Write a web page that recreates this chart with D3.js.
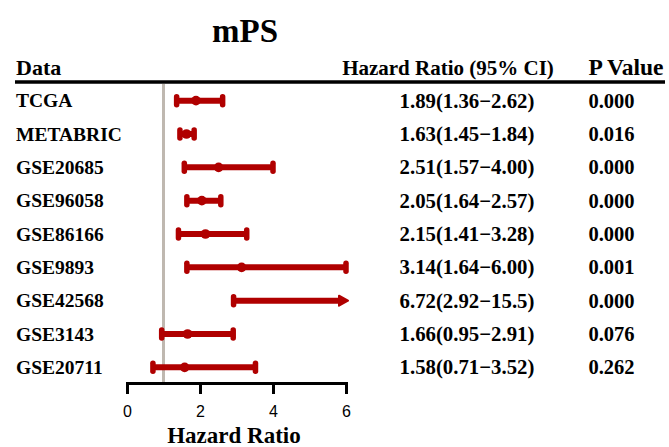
<!DOCTYPE html>
<html>
<head>
<meta charset="utf-8">
<script src="https://cdn.jsdelivr.net/npm/d3@7"></script>
<style>
  body { margin: 0; background: #fff; }
  svg { display: block; }
</style>
</head>
<body>
<svg id="chart" width="669" height="447"></svg>
<script>
// Study cohorts, hazard ratios and 95% confidence limits
const cohorts = ["TCGA", "METABRIC", "GSE20685", "GSE96058", "GSE86166", "GSE9893", "GSE42568", "GSE3143", "GSE20711"];
const hr      = [1.89, 1.63, 2.51, 2.05, 2.15, 3.14, 6.72, 1.66, 1.58];
const lower   = [1.36, 1.45, 1.57, 1.64, 1.41, 1.64, 2.92, 0.95, 0.71];
const upper   = [2.62, 1.84, 4.00, 2.57, 3.28, 6.00, 15.5, 2.91, 3.52];
const pValues = ["0.000", "0.016", "0.000", "0.000", "0.000", "0.001", "0.000", "0.076", "0.262"];
const xTicks  = [0, 2, 4, 6];

const svg = d3.select("#chart");
const serif = "'Liberation Serif', 'Times New Roman', serif";
const red = "#b00000";

const x = d3.scaleLinear().domain([0, 6]).range([127, 346]);
const y = d3.scaleBand().domain(cohorts).range([84, 384]).paddingInner(0).paddingOuter(0);
const cy = d => y(d) + y.bandwidth() / 2;

// Title and column headers
svg.append("text").attr("x", 245).attr("y", 42).attr("text-anchor", "middle")
  .style("font-family", serif).style("font-weight", "bold").style("font-size", "33px").text("mPS");
svg.append("text").attr("x", 16).attr("y", 75)
  .style("font-family", serif).style("font-weight", "bold").style("font-size", "22px").text("Data");
svg.append("text").attr("x", 448).attr("y", 75).attr("text-anchor", "middle")
  .style("font-family", serif).style("font-weight", "bold").style("font-size", "21px").text("Hazard Ratio (95% CI)");
svg.append("text").attr("x", 626).attr("y", 75).attr("text-anchor", "middle")
  .style("font-family", serif).style("font-weight", "bold").style("font-size", "23.5px").text("P Value");

svg.append("line").attr("x1", 15).attr("x2", 665).attr("y1", 82).attr("y2", 82)
  .attr("stroke", "#000").attr("stroke-width", 3.5);

// Reference line at HR = 1
svg.append("line").attr("x1", x(1)).attr("x2", x(1)).attr("y1", 84).attr("y2", 383)
  .attr("stroke", "#bfb8b0").attr("stroke-width", 3);

// Axis
const axis = svg.append("g").attr("transform", "translate(0,383)")
  .call(d3.axisBottom(x).tickValues(xTicks).tickFormat(d3.format("d"))
    .tickSize(11).tickPadding(12).tickSizeOuter(11));
axis.select(".domain").attr("stroke", "#000").attr("stroke-width", 3);
axis.selectAll(".tick line").attr("stroke", "#000").attr("stroke-width", 3);
axis.selectAll(".tick text").style("font-family", "'Liberation Sans', Arial, sans-serif")
  .style("font-size", "16px").attr("fill", "#000");
svg.append("text").attr("x", 234).attr("y", 443).attr("text-anchor", "middle")
  .style("font-family", serif).style("font-weight", "bold").style("font-size", "23px").text("Hazard Ratio");

const rows = cohorts.map((c, i) => ({ c, hr: hr[i], lo: lower[i], hi: upper[i], p: pValues[i] }));
const xMax = x.domain()[1];

const g = svg.append("g");
const row = g.selectAll("g.row").data(rows).join("g").attr("class", "row");

row.append("text").attr("x", 16).attr("y", d => cy(d.c) + 6.5)
  .style("font-family", serif).style("font-weight", "bold").style("font-size", "19.5px").text(d => d.c);
row.append("text").attr("x", 467).attr("y", d => cy(d.c) + 7)
  .attr("text-anchor", "middle")
  .style("font-family", serif).style("font-weight", "bold").style("font-size", "20.8px")
  .text(d => `${d.hr.toFixed(2)}(${d.lo.toFixed(2)}\u2212${d.hi >= 10 ? d.hi.toFixed(1) : d.hi.toFixed(2)})`);
row.append("text").attr("x", 611.5).attr("y", d => cy(d.c) + 7)
  .attr("text-anchor", "middle")
  .style("font-family", serif).style("font-weight", "bold").style("font-size", "20.5px").text(d => d.p);

// CI segments
row.append("line")
  .attr("x1", d => x(d.lo))
  .attr("x2", d => d.hi > xMax ? x(xMax) - 6 : x(d.hi))
  .attr("y1", d => cy(d.c)).attr("y2", d => cy(d.c))
  .attr("stroke", red).attr("stroke-width", 6);

// lower whisker caps
row.append("line")
  .attr("x1", d => x(d.lo)).attr("x2", d => x(d.lo))
  .attr("y1", d => cy(d.c) - 4).attr("y2", d => cy(d.c) + 4)
  .attr("stroke", red).attr("stroke-width", 5.5).attr("stroke-linecap", "round");

// upper caps or arrow when clipped
row.filter(d => d.hi <= xMax).append("line")
  .attr("x1", d => x(d.hi)).attr("x2", d => x(d.hi))
  .attr("y1", d => cy(d.c) - 4).attr("y2", d => cy(d.c) + 4)
  .attr("stroke", red).attr("stroke-width", 5.5).attr("stroke-linecap", "round");
row.filter(d => d.hi > xMax).append("path")
  .attr("d", d => {
    const xe = x(xMax) + 2, yc = cy(d.c);
    return `M${xe - 9},${yc - 5} L${xe},${yc} L${xe - 9},${yc + 5} Z`;
  })
  .attr("fill", red).attr("stroke", red).attr("stroke-width", 2).attr("stroke-linejoin", "round");

// point estimates (within the plotted range)
row.filter(d => d.hr <= xMax).append("circle")
  .attr("cx", d => x(d.hr)).attr("cy", d => cy(d.c)).attr("r", 4.8).attr("fill", red);
</script>
</body>
</html>
